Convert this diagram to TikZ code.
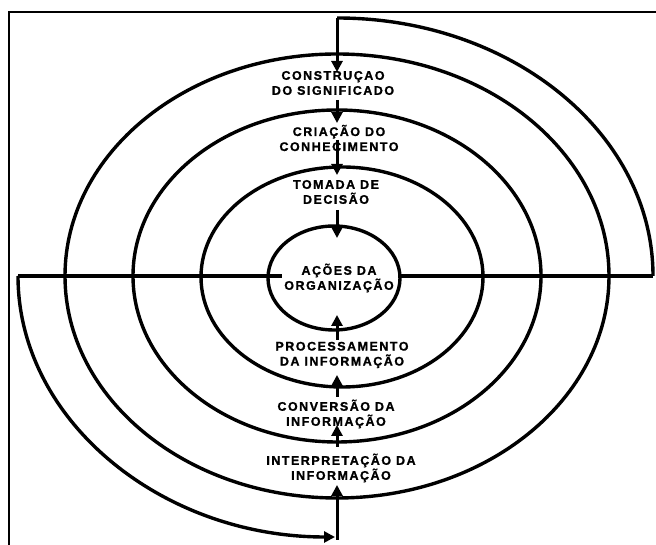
\documentclass[tikz,border=0pt]{standalone}
\usepackage{fontspec}
\newfontfamily\lblfont{Liberation Sans}[LetterSpace=12,BoldFeatures={FakeBold=1.2}]
\usetikzlibrary{arrows.meta}
\tikzset{
  ring/.style={line width=3.4pt},
  flow/.style={line width=3pt,-{Triangle[width=11pt,length=11pt]}},
  frameline/.style={line width=2.4pt},
  lbl/.style={align=center,inner sep=0pt,font=\lblfont\bfseries\fontsize{12.5}{15}\selectfont}
}
\begin{document}
\begin{tikzpicture}[x=1pt,y=1pt]
\useasboundingbox (0,0) rectangle (656,545);
% frame (only top and left visible)
\draw[frameline] (9,0) -- (9,533) -- (656,533);
% ellipses
\draw[ring] (337,269) ellipse[x radius=272,y radius=222];
\draw[ring] (337,269) ellipse[x radius=204,y radius=166];
\draw[ring] (342,268) ellipse[x radius=141,y radius=110];
\draw[ring] (334,267) ellipse[x radius=66,y radius=52];
% spiral coordinates
\coordinate (rEnd) at (653,269);
\coordinate (topStart) at (337,527);
\coordinate (lEnd) at (18,269);
\coordinate (botCorner) at (337,5);
% horizontal line
\draw[ring] (lEnd) -- (282,269);
\draw[ring] (398,269) -- (rEnd);
% top-right spiral arm
\draw[ring] (rEnd) arc[start angle=0,end angle=90,x radius=316,y radius=258];
% bottom-left spiral arm with arrow
\draw[flow,line width=3.4pt,shorten >=3pt] (lEnd) arc[start angle=180,end angle=270,x radius=320,y radius=261];
% labels
\node[lbl] (cs) at (333,462) {CONSTRUÇAO\\DO SIGNIFICADO};
\node[lbl] (cc) at (339,407) {CRIAÇÃO DO\\CONHECIMENTO};
\node[lbl] (td) at (336,353) {TOMADA DE\\DECISÃO};
\node[lbl] (ao) at (339,267) {AÇÕES DA\\ORGANIZAÇÃO};
\node[lbl] (pi) at (342,190) {PROCESSAMENTO\\DA INFORMAÇÃO};
\node[lbl] (ci) at (336,131) {CONVERSÃO DA\\INFORMAÇÃO};
\node[lbl] (ii) at (341,77) {INTERPRETAÇÃO DA\\INFORMAÇÃO};
% arrow coordinates
\coordinate (a2s) at (337,445); \coordinate (a2e) at (337,422);
\coordinate (a3s) at (337,405); \coordinate (a3e) at (337,370);
\coordinate (a4s) at (337,335); \coordinate (a4e) at (337,307);
\coordinate (a5s) at (337,205); \coordinate (a5e) at (337,230);
\coordinate (a6s) at (337,148); \coordinate (a6e) at (337,170);
\coordinate (a7s) at (337,98);  \coordinate (a7e) at (337,120);
\coordinate (a1e) at (337,473);
\coordinate (a8e) at (337,60);
% column arrows
\draw[flow] (topStart) -- (a1e);
\draw[flow] (a2s) -- (a2e);
\draw[flow] (a3s) -- (a3e);
\draw[flow] (a4s) -- (a4e);
\draw[flow] (a5s) -- (a5e);
\draw[flow] (a6s) -- (a6e);
\draw[flow] (a7s) -- (a7e);
\draw[flow] (botCorner) -- (a8e);
\end{tikzpicture}
\end{document}
